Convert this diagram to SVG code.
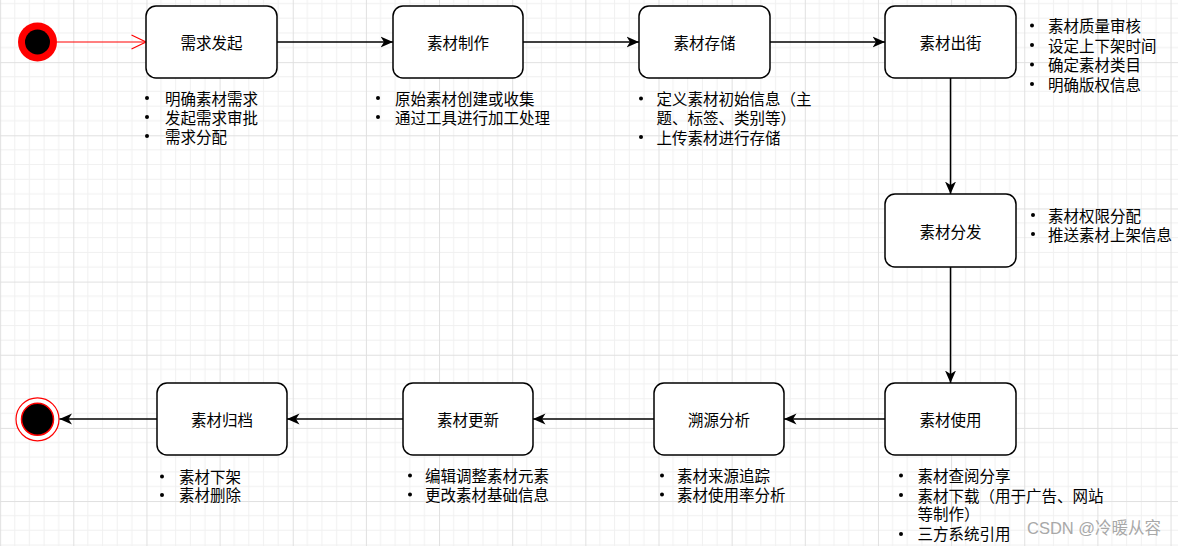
<svg xmlns="http://www.w3.org/2000/svg" width="1178" height="546" viewBox="0 0 1178 546">
  <defs>
    <pattern id="grid" patternUnits="userSpaceOnUse" x="0.15" y="-11" width="73.15" height="73.15">
      <path d="M14.63,0V73.15M29.26,0V73.15M43.89,0V73.15M58.52,0V73.15M0,14.63H73.15M0,29.26H73.15M0,43.89H73.15M0,58.52H73.15" stroke="#f0f0f0" stroke-width="1" fill="none"/>
      <path d="M0.5,0V73.15M0,0.5H73.15" stroke="#e0e0e0" stroke-width="1" fill="none"/>
    </pattern>
    <marker id="arr" markerUnits="userSpaceOnUse" viewBox="0 -6 13 12" refX="12.5" refY="0" markerWidth="13" markerHeight="12" orient="auto">
      <path d="M0,-5.5 L12.5,0 L0,5.5 L3.5,0 Z" fill="#000"/>
    </marker>
    <style>
      .node rect { fill: #fff; stroke: #000; stroke-width: 1.5; }
      .label { font-family: "Noto Sans CJK SC", "Noto Sans", sans-serif; font-size: 15.5px; fill: #000; text-anchor: middle; dominant-baseline: central; }
      .list { font-family: "Noto Sans CJK SC", "Noto Sans", sans-serif; font-size: 15.5px; fill: #000; dominant-baseline: central; }
      .dot { fill: #000; }
      .edge { stroke: #000; stroke-width: 1.5; fill: none; marker-end: url(#arr); }
    </style>
  </defs>
  <rect width="1178" height="546" fill="#fff"/>
  <rect width="1178" height="546" fill="url(#grid)"/>

  <g id="start">
    <circle cx="37.5" cy="42" r="19.5" fill="#ff0000"/>
    <circle cx="37.5" cy="42" r="12.5" fill="#000"/>
  </g>
  <g id="end">
    <circle cx="37.5" cy="419.3" r="21.5" fill="#fff" stroke="#ff0000" stroke-width="1.2"/>
    <circle cx="37.5" cy="419.3" r="16" fill="#000" stroke="#ff0000" stroke-width="1.5"/>
  </g>

  <g id="connectors">
    <path d="M57,42 H145.5" stroke="#ff0000" stroke-width="1.2" fill="none"/>
    <path d="M131.5,35 L146,42 L131.5,49" stroke="#ff0000" stroke-width="1.2" fill="none"/>
    <path class="edge" d="M277,42 H393"/>
    <path class="edge" d="M523,42 H639"/>
    <path class="edge" d="M770,42 H885"/>
    <path class="edge" d="M950.5,78 V194"/>
    <path class="edge" d="M950.5,267 V383"/>
    <path class="edge" d="M885,419 H784"/>
    <path class="edge" d="M654,419 H533"/>
    <path class="edge" d="M403,419 H287"/>
    <path class="edge" d="M157,419 H59.5"/>
  </g>

  <g id="n1" class="node">
    <rect x="146" y="6" width="131" height="72" rx="10"/>
    <text class="label" x="211.5" y="42">需求发起</text>
  </g>
  <g id="n2" class="node">
    <rect x="393" y="6" width="130" height="72" rx="10"/>
    <text class="label" x="458" y="42">素材制作</text>
  </g>
  <g id="n3" class="node">
    <rect x="639" y="6" width="131" height="72" rx="10"/>
    <text class="label" x="704.5" y="42">素材存储</text>
  </g>
  <g id="n4" class="node">
    <rect x="885" y="6" width="131" height="72" rx="10"/>
    <text class="label" x="950.5" y="42">素材出街</text>
  </g>
  <g id="n5" class="node">
    <rect x="885" y="194" width="131" height="73" rx="10"/>
    <text class="label" x="950.5" y="230.5">素材分发</text>
  </g>
  <g id="n6" class="node">
    <rect x="885" y="383" width="131" height="72" rx="10"/>
    <text class="label" x="950.5" y="419">素材使用</text>
  </g>
  <g id="n7" class="node">
    <rect x="654" y="383" width="130" height="72" rx="10"/>
    <text class="label" x="719" y="419">溯源分析</text>
  </g>
  <g id="n8" class="node">
    <rect x="403" y="383" width="130" height="72" rx="10"/>
    <text class="label" x="468" y="419">素材更新</text>
  </g>
  <g id="n9" class="node">
    <rect x="157" y="383" width="130" height="72" rx="10"/>
    <text class="label" x="222" y="419">素材归档</text>
  </g>

  <g id="list1">
    <circle class="dot" cx="147" cy="98" r="2"/>
    <circle class="dot" cx="147" cy="117" r="2"/>
    <circle class="dot" cx="147" cy="136" r="2"/>
    <text class="list"><tspan x="165" y="97.7">明确素材需求</tspan><tspan x="165" y="116.7">发起需求审批</tspan><tspan x="165" y="135.7">需求分配</tspan></text>
  </g>
  <g id="list2">
    <circle class="dot" cx="378" cy="98" r="2"/>
    <circle class="dot" cx="378" cy="117" r="2"/>
    <text class="list"><tspan x="395" y="98">原始素材创建或收集</tspan><tspan x="395" y="117">通过工具进行加工处理</tspan></text>
  </g>
  <g id="list3">
    <circle class="dot" cx="641" cy="98.5" r="2"/>
    <circle class="dot" cx="641" cy="137" r="2"/>
    <text class="list"><tspan x="656.5" y="98.3">定义素材初始信息（主</tspan><tspan x="656.5" y="117.3">题、标签、类别等）</tspan><tspan x="656.5" y="136.5">上传素材进行存储</tspan></text>
  </g>
  <g id="list4">
    <circle class="dot" cx="1032" cy="25.5" r="2"/>
    <circle class="dot" cx="1032" cy="45" r="2"/>
    <circle class="dot" cx="1032" cy="64.5" r="2"/>
    <circle class="dot" cx="1032" cy="84" r="2"/>
    <text class="list"><tspan x="1048" y="25">素材质量审核</tspan><tspan x="1048" y="44.5">设定上下架时间</tspan><tspan x="1048" y="64">确定素材类目</tspan><tspan x="1048" y="84">明确版权信息</tspan></text>
  </g>
  <g id="list5">
    <circle class="dot" cx="1033" cy="215" r="2"/>
    <circle class="dot" cx="1033" cy="234" r="2"/>
    <text class="list"><tspan x="1048" y="215">素材权限分配</tspan><tspan x="1048" y="233.5">推送素材上架信息</tspan></text>
  </g>
  <g id="list6">
    <circle class="dot" cx="901" cy="475.5" r="2"/>
    <circle class="dot" cx="901" cy="495" r="2"/>
    <circle class="dot" cx="901" cy="534" r="2"/>
    <text class="list"><tspan x="917.5" y="475">素材查阅分享</tspan><tspan x="917.5" y="494.5">素材下载（用于广告、网站</tspan><tspan x="917.5" y="513">等制作）</tspan><tspan x="917.5" y="533">三方系统引用</tspan></text>
  </g>
  <g id="list7">
    <circle class="dot" cx="662" cy="475.5" r="2"/>
    <circle class="dot" cx="662" cy="494.5" r="2"/>
    <text class="list"><tspan x="677" y="475">素材来源追踪</tspan><tspan x="677" y="494">素材使用率分析</tspan></text>
  </g>
  <g id="list8">
    <circle class="dot" cx="410" cy="475.5" r="2"/>
    <circle class="dot" cx="410" cy="494.5" r="2"/>
    <text class="list"><tspan x="425" y="475">编辑调整素材元素</tspan><tspan x="425" y="494">更改素材基础信息</tspan></text>
  </g>
  <g id="list9">
    <circle class="dot" cx="162" cy="476.5" r="2"/>
    <circle class="dot" cx="162" cy="495" r="2"/>
    <text class="list"><tspan x="179" y="476">素材下架</tspan><tspan x="179" y="494.3">素材删除</tspan></text>
  </g>

  <text x="1027" y="527.5" font-family="Liberation Sans, 'Noto Sans CJK SC', sans-serif" font-size="16.5px" fill="#a8a8a8" dominant-baseline="central">CSDN @冷暖从容</text>
</svg>
